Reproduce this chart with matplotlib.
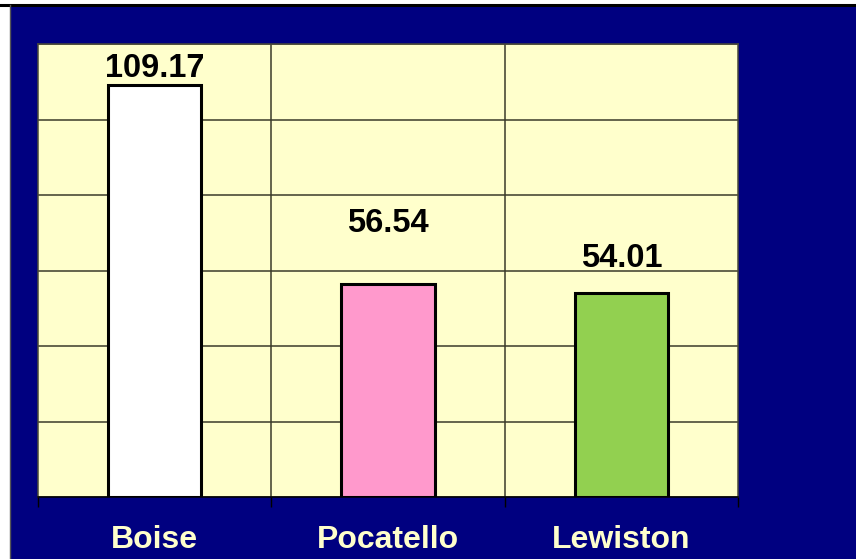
import matplotlib
matplotlib.use("Agg")
import matplotlib.pyplot as plt
from matplotlib.patches import Rectangle
from matplotlib.lines import Line2D

categories = ["Boise", "Pocatello", "Lewiston"]
values = [109.17, 56.54, 54.01]
bar_colors = ["#FFFFFF", "#FF99CC", "#92D050"]
label_offsets_px = [8, 52, 26]  # gap between bar top and label baseline

plt.rcParams['font.family'] = ['Liberation Sans', 'DejaVu Sans']

DPI = 100
fig = plt.figure(figsize=(8.56, 5.59), dpi=DPI, facecolor="white")
W, H = 856, 559

# navy background panel
fig.patches.append(Rectangle((10 / W, 0), 1 - 10 / W, 1 - 6 / H, transform=fig.transFigure,
                             facecolor="#000080", edgecolor="none", zorder=-10))
fig.lines.append(Line2D([0, 1], [1 - 5 / H, 1 - 5 / H], transform=fig.transFigure,
                        color="black", linewidth=2.2, zorder=-5))
fig.lines.append(Line2D([10 / W, 10 / W], [0, 1 - 5 / H], transform=fig.transFigure,
                        color="#555555", linewidth=1.0, zorder=-5))

ax = fig.add_axes([38 / W, 1 - 497 / H, 700 / W, 453 / H])
ax.set_facecolor("#FFFFCC")

x = list(range(len(categories)))
ax.bar(x, values, width=0.40, color=bar_colors, edgecolor="black", linewidth=2.2, zorder=3)

ax.set_xlim(-0.5, len(categories) - 0.5)
ax.set_ylim(0, 120)
ax.set_yticks(range(0, 121, 20))
ax.set_yticklabels([])
ax.tick_params(axis="y", length=0)
ax.yaxis.grid(True, color="#3a3a2a", linewidth=1.1, zorder=1)
ax.set_axisbelow(True)

# category separators
for b in [i + 0.5 for i in x[:-1]]:
    ax.axvline(b, color="#3a3a2a", linewidth=1.1, zorder=1)

ax.set_xticks(x)
ax.set_xticklabels(categories, fontsize=23, fontweight="bold", color="#FFFFCC")
ax.tick_params(axis="x", which="major", length=0, pad=20)
ax.set_xticks([i - 0.5 for i in range(len(categories) + 1)], minor=True)
ax.tick_params(axis="x", which="minor", length=7.5, width=1.0, color="black", direction="out")

for side in ["left", "right", "top"]:
    ax.spines[side].set_color("#4a4a3a")
    ax.spines[side].set_linewidth(1.1)
ax.spines["bottom"].set_color("black")
ax.spines["bottom"].set_linewidth(1.1)

for xi, v, off in zip(x, values, label_offsets_px):
    ax.annotate(f"{v:.2f}", xy=(xi, v), xytext=(0, off * 72 / DPI), textcoords="offset points",
                ha="center", va="baseline", fontsize=23.5, fontweight="bold", color="black", zorder=4)

fig.savefig("out.png", dpi=DPI, facecolor="white")
